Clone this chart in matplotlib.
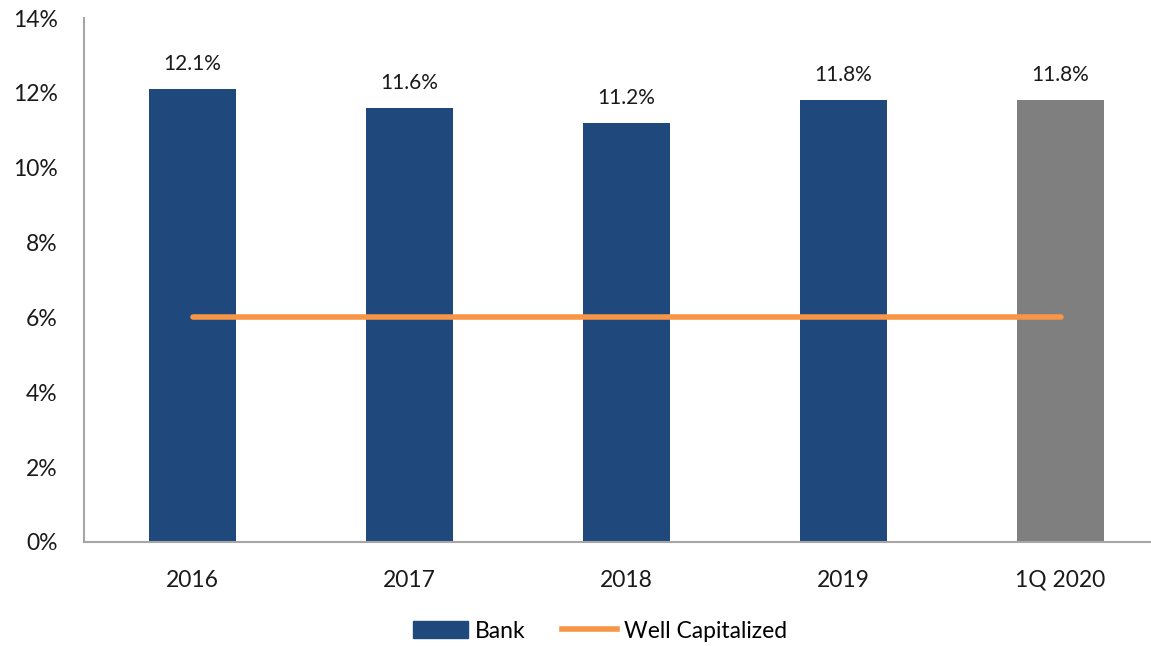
import matplotlib.pyplot as plt
from matplotlib.patches import Patch
from matplotlib.lines import Line2D

# Tier 1 leverage ratio, bank vs well-capitalized threshold
periods = ["2016", "2017", "2018", "2019", "1Q 2020"]
bank = [12.1, 11.6, 11.2, 11.8, 11.8]
well_cap = [6.0, 6.0, 6.0, 6.0, 6.0]
bar_colors = ["#1F497D", "#1F497D", "#1F497D", "#1F497D", "#7F7F7F"]

plt.rcParams["font.family"] = ["Lato", "DejaVu Sans"]

fig = plt.figure(figsize=(11.51, 6.46), dpi=100)
ax = fig.add_axes([84 / 1151, 104 / 646, 1085 / 1151, 524 / 646])

x = range(len(periods))
ax.bar(x, bank, width=0.4, color=bar_colors, zorder=2)
ax.plot(list(x), well_cap, color="#F79646", lw=4, solid_capstyle="round", zorder=3)

for xi, v in zip(x, bank):
    ax.text(xi, v + 0.4, f"{v:.1f}%", ha="center", va="bottom", fontsize=15, color="#1a1a1a")

ax.set_xlim(-0.5, len(periods) - 0.5)
ax.set_ylim(0, 14)
ax.set_yticks(range(0, 15, 2))
ax.set_yticklabels([f"{t}%" for t in range(0, 15, 2)])
ax.set_xticks(list(x))
ax.set_xticklabels(periods)
ax.tick_params(axis="both", length=0, labelsize=16.5, colors="#1a1a1a")
ax.tick_params(axis="x", pad=20)
ax.tick_params(axis="y", pad=19)

for s in ["top", "right"]:
    ax.spines[s].set_visible(False)
ax.spines["left"].set_color("#A6A6A6")
ax.spines["bottom"].set_color("#A6A6A6")
ax.spines["left"].set_linewidth(1.5)
ax.spines["bottom"].set_linewidth(1.5)

handles = [Patch(color="#1F497D", label="Bank"),
           Line2D([], [], color="#F79646", lw=4, label="Well Capitalized")]
fig.legend(handles=handles, loc="center", bbox_to_anchor=(600 / 1151, 1 - 631 / 646),
           ncol=2, frameon=False, fontsize=16.5, handlelength=2.4, columnspacing=1.6,
           handletextpad=0.3)

fig.savefig("out.png", dpi=100)
